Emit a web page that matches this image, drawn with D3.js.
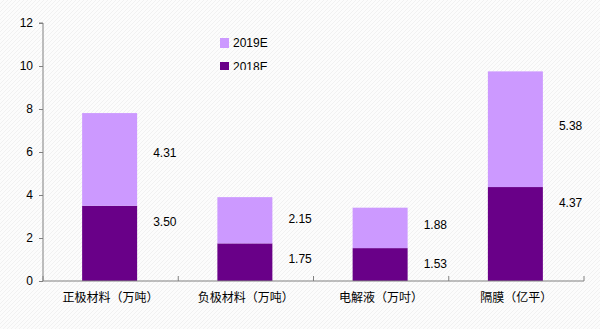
<!DOCTYPE html>
<html><head><meta charset="utf-8">
<script src="https://cdn.jsdelivr.net/npm/d3@7"></script>
<style>body{margin:0;background:#fbfbfb}svg{display:block}</style>
</head><body><svg id="c" width="600" height="329"></svg>
<script>
const categories = ["正极材料（万吨）","负极材料（万吨）","电解液（万吋）","隔膜（亿平）"];
const v2018 = [3.50, 1.75, 1.53, 4.37];
const v2019 = [4.31, 2.15, 1.88, 5.38];
// label anchor heights (in data units) as positioned in the source
const lab2018At = [2.74, 1.02, 0.79, 3.63];
const lab2019At = [5.95, 2.88, 2.60, 7.20];
const yTicks = [0,2,4,6,8,10,12];
const seriesNames = ["2019E","2018E"];
const colors = {"2019E":"#cc99ff","2018E":"#690088"};

const svg = d3.select("#c");
const defs = svg.append("defs");
const pat = defs.append("pattern").attr("id","hatch").attr("width",4).attr("height",4)
  .attr("patternUnits","userSpaceOnUse");
pat.append("rect").attr("width",4).attr("height",4).attr("fill","#fcfcfc");
pat.append("path").attr("d","M0,4 L4,0 M-1,1 L1,-1 M3,5 L5,3").attr("stroke","#f1f1f1").attr("stroke-width",1);
svg.append("rect").attr("width",600).attr("height",329).attr("fill","url(#hatch)");

const x0 = 43, x1 = 584, y0 = 281, yTop = 23;
const x = d3.scaleBand().domain(categories).range([x0,x1]).paddingInner(0).paddingOuter(0);
const y = d3.scaleLinear().domain([0,12]).range([y0,yTop]);
const bw = 55;

const g = svg.append("g");
categories.forEach((c,i)=>{
  const cx = x(c) + x.bandwidth()/2 - 1;
  g.append("rect").attr("x",cx-bw/2).attr("width",bw)
    .attr("y",y(v2018[i])).attr("height",y(0)-y(v2018[i])).attr("fill",colors["2018E"]);
  g.append("rect").attr("x",cx-bw/2).attr("width",bw)
    .attr("y",y(v2018[i]+v2019[i])).attr("height",y(v2018[i])-y(v2018[i]+v2019[i])).attr("fill",colors["2019E"]);
  g.append("text").attr("x",cx+bw/2+16).attr("y",y(lab2019At[i])).attr("dy","0.35em")
    .attr("font-family","Liberation Sans, Arial, sans-serif").attr("font-size",12).attr("fill","#000")
    .text(v2019[i].toFixed(2));
  g.append("text").attr("x",cx+bw/2+16).attr("y",y(lab2018At[i])).attr("dy","0.35em")
    .attr("font-family","Liberation Sans, Arial, sans-serif").attr("font-size",12).attr("fill","#000")
    .text(v2018[i].toFixed(2));
});

const ya = svg.append("g").attr("transform",`translate(${x0},0)`)
  .call(d3.axisLeft(y).tickValues(yTicks).tickSize(4).tickPadding(6).tickFormat(d3.format("d")));
ya.select(".domain").attr("stroke","#808080").attr("d",`M-4,${y(12)}H0V${y0}`);
ya.selectAll(".tick line").attr("stroke","#808080");
ya.selectAll("text").attr("font-family","Liberation Sans, Arial, sans-serif").attr("font-size",12).attr("fill","#000");

const xa = svg.append("g");
xa.append("line").attr("x1",x0).attr("x2",x1).attr("y1",y0).attr("y2",y0).attr("stroke","#808080");
const bounds = categories.map(c=>x(c)).concat([x1]);
xa.selectAll(".tk").data(bounds).enter().append("line")
  .attr("x1",d=>d).attr("x2",d=>d).attr("y1",y0).attr("y2",y0-5).attr("stroke","#808080");
xa.selectAll(".lab").data(categories).enter().append("text")
  .attr("x",d=>x(d)+x.bandwidth()/2).attr("y",y0+17).attr("dy","0.35em")
  .attr("text-anchor","middle").attr("font-family","Noto Sans CJK SC, sans-serif")
  .attr("font-size",12).attr("fill","#000").text(d=>d);

defs.append("clipPath").attr("id","lclip").append("rect").attr("x",210).attr("y",30).attr("width",80).attr("height",40);
const lg = svg.append("g").attr("clip-path","url(#lclip)");
seriesNames.forEach((s,i)=>{
  const ly = 38 + i*24;
  lg.append("rect").attr("x",220).attr("y",ly).attr("width",9).attr("height",10).attr("fill",colors[s]);
  lg.append("text").attr("x",233).attr("y",ly+5).attr("dy","0.35em")
    .attr("font-family","Liberation Sans, Arial, sans-serif").attr("font-size",12).attr("fill","#000").text(s);
});
</script></body></html>
